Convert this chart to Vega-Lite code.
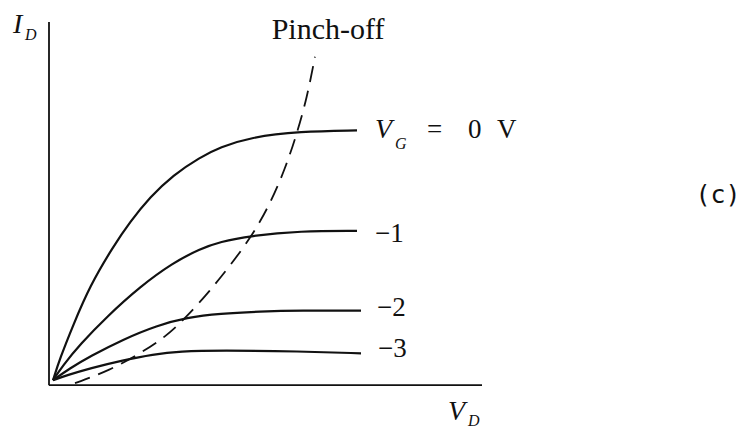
{
  "$schema": "https://vega.github.io/schema/vega-lite/v6.json",
  "width": 747,
  "height": 429,
  "autosize": {"type": "fit", "contains": "padding"},
  "padding": 0,
  "background": "white",
  "config": {"view": {"stroke": null}},
  "datasets": {
    "axes": [
      {"vd": 0, "id": 0, "vd2": 0, "id2": 36.5},
      {"vd": 0, "id": 0, "vd2": 43.3, "id2": 0}
    ],
    "curves": [
      {"vg": "0", "vd": 0.4, "id": 0.5}, {"vg": "0", "vd": 1.1, "id": 2.7}, {"vg": "0", "vd": 2.4, "id": 6.0},
      {"vg": "0", "vd": 4.1, "id": 10.0}, {"vg": "0", "vd": 6.4, "id": 13.9}, {"vg": "0", "vd": 8.1, "id": 16.4},
      {"vg": "0", "vd": 10.1, "id": 18.9}, {"vg": "0", "vd": 12.4, "id": 21.1}, {"vg": "0", "vd": 15.1, "id": 22.9},
      {"vg": "0", "vd": 17.1, "id": 23.9}, {"vg": "0", "vd": 20.1, "id": 24.9}, {"vg": "0", "vd": 25.1, "id": 25.5},
      {"vg": "0", "vd": 30.8, "id": 25.6},
      {"vg": "-1", "vd": 0.4, "id": 0.5}, {"vg": "-1", "vd": 1.4, "id": 2.0}, {"vg": "-1", "vd": 3.1, "id": 4.1},
      {"vg": "-1", "vd": 5.8, "id": 6.9}, {"vg": "-1", "vd": 9.1, "id": 9.9}, {"vg": "-1", "vd": 12.4, "id": 12.3},
      {"vg": "-1", "vd": 15.1, "id": 13.7}, {"vg": "-1", "vd": 17.1, "id": 14.4}, {"vg": "-1", "vd": 20.1, "id": 15.0},
      {"vg": "-1", "vd": 25.1, "id": 15.5}, {"vg": "-1", "vd": 30.8, "id": 15.5},
      {"vg": "-2", "vd": 0.4, "id": 0.5}, {"vg": "-2", "vd": 2.1, "id": 1.7}, {"vg": "-2", "vd": 4.1, "id": 2.9},
      {"vg": "-2", "vd": 7.4, "id": 4.6}, {"vg": "-2", "vd": 10.8, "id": 6.0}, {"vg": "-2", "vd": 13.8, "id": 6.8},
      {"vg": "-2", "vd": 17.1, "id": 7.2}, {"vg": "-2", "vd": 21.1, "id": 7.4}, {"vg": "-2", "vd": 25.1, "id": 7.5},
      {"vg": "-2", "vd": 31.2, "id": 7.5},
      {"vg": "-3", "vd": 0.4, "id": 0.5}, {"vg": "-3", "vd": 1.8, "id": 1.0}, {"vg": "-3", "vd": 4.1, "id": 1.7},
      {"vg": "-3", "vd": 7.4, "id": 2.5}, {"vg": "-3", "vd": 10.4, "id": 3.1}, {"vg": "-3", "vd": 13.1, "id": 3.4},
      {"vg": "-3", "vd": 17.1, "id": 3.5}, {"vg": "-3", "vd": 25.1, "id": 3.4}, {"vg": "-3", "vd": 31.2, "id": 3.2}
    ],
    "pinchoff": [
      {"vd": 2.6, "id": 0.2}, {"vd": 6.1, "id": 1.5}, {"vd": 9.1, "id": 3.2}, {"vd": 11.6, "id": 4.8},
      {"vd": 13.8, "id": 6.9}, {"vd": 16.1, "id": 9.5}, {"vd": 18.1, "id": 12.0}, {"vd": 20.3, "id": 15.0},
      {"vd": 22.1, "id": 18.2}, {"vd": 23.6, "id": 21.7}, {"vd": 24.8, "id": 25.3}, {"vd": 25.8, "id": 28.9},
      {"vd": 26.6, "id": 33.0}
    ],
    "symbols": [
      {"vd": -3.6, "id": 35.4, "text": "I"},
      {"vd": 39.9, "id": -3.5, "text": "V"},
      {"vd": 32.6, "id": 24.8, "text": "V"}
    ],
    "subscripts": [
      {"vd": -2.4, "id": 34.7, "text": "D"},
      {"vd": 41.9, "id": -4.1, "text": "D"},
      {"vd": 34.6, "id": 23.7, "text": "G"}
    ],
    "upright": [
      {"vd": 37.8, "id": 24.8, "text": "="},
      {"vd": 41.9, "id": 24.8, "text": "0"},
      {"vd": 44.8, "id": 24.8, "text": "V"},
      {"vd": 32.6, "id": 14.4, "text": "−1"},
      {"vd": 32.8, "id": 7.0, "text": "−2"},
      {"vd": 32.9, "id": 2.8, "text": "−3"}
    ],
    "title": [{"vd": 27.9, "id": 34.8, "text": "Pinch-off"}],
    "panel": [{"vd": 66.9, "id": 19.1, "text": "(c)"}]
  },
  "encoding": {
    "x": {"field": "vd", "type": "quantitative", "axis": null,
          "scale": {"domain": [-4.9, 69.8], "nice": false, "zero": false}},
    "y": {"field": "id", "type": "quantitative", "axis": null,
          "scale": {"domain": [-4.2, 38.7], "nice": false, "zero": false}}
  },
  "layer": [
    {
      "data": {"name": "axes"},
      "mark": {"type": "rule", "color": "#111", "strokeWidth": 1.8},
      "encoding": {
        "x2": {"field": "vd2"},
        "y2": {"field": "id2"}
      }
    },
    {
      "data": {"name": "curves"},
      "mark": {"type": "line", "interpolate": "basis", "color": "#111", "strokeWidth": 2.2},
      "encoding": {
        "detail": {"field": "vg", "type": "nominal"},
        "order": {"field": "vd", "type": "quantitative"}
      }
    },
    {
      "data": {"name": "pinchoff"},
      "mark": {"type": "line", "interpolate": "basis", "color": "#111", "strokeWidth": 1.8, "strokeDash": [16, 9]},
      "encoding": {"order": {"field": "vd", "type": "quantitative"}}
    },
    {
      "data": {"name": "symbols"},
      "mark": {"type": "text", "align": "left", "baseline": "alphabetic", "font": "Liberation Serif",
               "fontStyle": "italic", "fontSize": 28, "color": "#111"},
      "encoding": {"text": {"field": "text"}}
    },
    {
      "data": {"name": "subscripts"},
      "mark": {"type": "text", "align": "left", "baseline": "alphabetic", "font": "Liberation Serif",
               "fontStyle": "italic", "fontSize": 16, "color": "#111"},
      "encoding": {"text": {"field": "text"}}
    },
    {
      "data": {"name": "upright"},
      "mark": {"type": "text", "align": "left", "baseline": "alphabetic", "font": "Liberation Serif",
               "fontSize": 27, "color": "#111"},
      "encoding": {"text": {"field": "text"}}
    },
    {
      "data": {"name": "title"},
      "mark": {"type": "text", "align": "center", "baseline": "alphabetic", "font": "Liberation Serif",
               "fontSize": 30, "color": "#111"},
      "encoding": {"text": {"field": "text"}}
    },
    {
      "data": {"name": "panel"},
      "mark": {"type": "text", "align": "center", "baseline": "middle", "font": "DejaVu Sans Mono",
               "fontSize": 25, "color": "#111"},
      "encoding": {"text": {"field": "text"}}
    }
  ]
}
